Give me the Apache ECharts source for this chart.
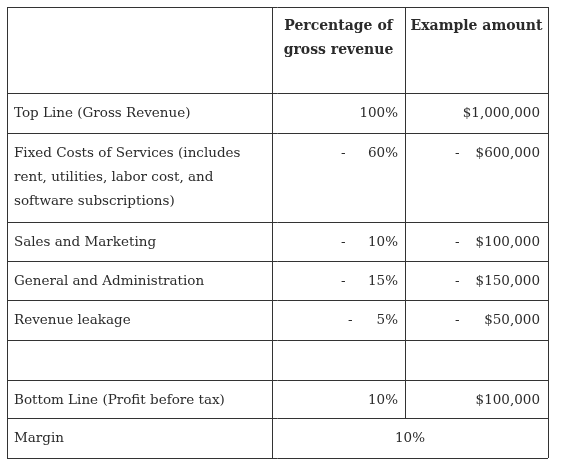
<!DOCTYPE html>
<html><head><meta charset="utf-8">
<script src="https://cdn.jsdelivr.net/npm/echarts@6/dist/echarts.min.js"></script>
<style>html,body{margin:0;background:#fff}#c{width:561px;height:471px}</style>
</head><body><div id="c"></div>
<script>
// table content
var headers = ['', 'Percentage of\ngross revenue', 'Example amount'];
var labels = ['Top Line (Gross Revenue)', 'Fixed Costs of Services (includes\nrent, utilities, labor cost, and\nsoftware subscriptions)', 'Sales and Marketing', 'General and Administration', 'Revenue leakage', '', 'Bottom Line (Profit before tax)', 'Margin'];
var pct = ['100%', '60%', '10%', '15%', '5%', '', '10%', '10%'];
var amount = ['$1,000,000', '$600,000', '$100,000', '$150,000', '$50,000', '', '$100,000', ''];
var negative = [false, true, true, true, true, false, false, false];

// grid geometry
var colX = [7, 272, 405, 548];
var rowY = [7, 93, 133, 222, 261, 300, 340, 380, 418, 458];
var font = '13.5px "DejaVu Serif", "Liberation Serif", serif';
var fontB = 'bold 14px "DejaVu Serif", "Liberation Serif", serif';
var ink = '#2b2b2b';

var els = [];
function line(x1, y1, x2, y2) {
  els.push({type: 'line', shape: {x1: x1, y1: y1, x2: x2, y2: y2}, style: {stroke: '#333', lineWidth: 1}});
}
function text(x, y, s, align, f) {
  els.push({type: 'text', x: x, y: y, style: {text: s, font: f || font, fill: ink, align: align, verticalAlign: 'top', lineHeight: 24}});
}
var last = labels.length - 1;
var bottom = rowY[rowY.length - 1];
rowY.forEach(function (y) { line(colX[0], y + .5, colX[3], y + .5); });
line(colX[0] + .5, rowY[0], colX[0] + .5, bottom);
line(colX[3] + .5, rowY[0], colX[3] + .5, bottom);
line(colX[1] + .5, rowY[0], colX[1] + .5, bottom);
line(colX[2] + .5, rowY[0], colX[2] + .5, rowY[last + 1]);

text((colX[1] + colX[2]) / 2, 14, headers[1], 'center', fontB);
text((colX[2] + colX[3]) / 2, 14, headers[2], 'center', fontB);

labels.forEach(function (lab, i) {
  var top = rowY[i + 1] + 8;
  text(colX[0] + 7, top, lab, 'left');
  if (i === last) {
    text((colX[1] + colX[3]) / 2, top, pct[i], 'center');
    return;
  }
  text(colX[2] - 7, top, pct[i], 'right');
  text(colX[3] - 8, top, amount[i], 'right');
  if (negative[i]) {
    var dx = pct[i].length < 3 ? 50 : 57;
    text(colX[2] - 7 - dx, top, '-', 'left');
    text(colX[2] + 50, top, '-', 'left');
  }
});

var chart = echarts.init(document.getElementById('c'));
chart.setOption({animation: false, graphic: els});
</script></body></html>
